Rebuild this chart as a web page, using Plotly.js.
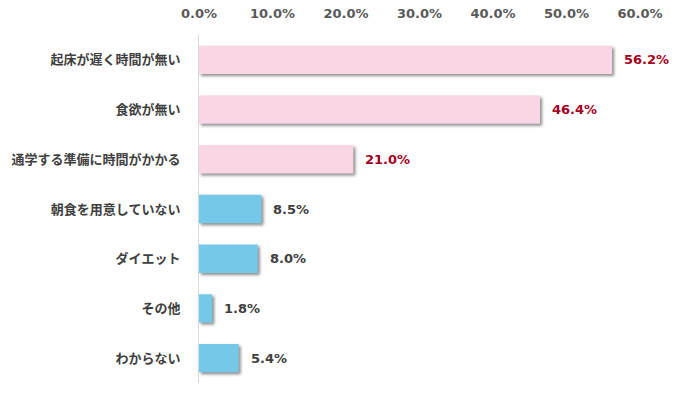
<!DOCTYPE html>
<html><head><meta charset="utf-8">
<script src="https://cdn.plot.ly/plotly-3.0.1.min.js"></script>
<style>
html,body{margin:0;padding:0;background:#fff;}
#chart{width:683px;height:394px;}
.barlayer .point path{filter:drop-shadow(2px 2px 1.5px rgba(0,0,0,0.45));}
</style>
</head><body>
<div id="chart"></div>
<script>
const categories = ["起床が遅く時間が無い","食欲が無い","通学する準備に時間がかかる","朝食を用意していない","ダイエット","その他","わからない"];
const values = [56.2, 46.4, 21.0, 8.5, 8.0, 1.8, 5.4];
const barColors = ["#f8d6e6","#f8d6e6","#f8d6e6","#76c8e9","#76c8e9","#76c8e9","#76c8e9"];
const labelColors = ["#a50021","#a50021","#a50021","#404040","#404040","#404040","#404040"];
const tickVals = [0,10,20,30,40,50,60];
const tickText = tickVals.map(v => v.toFixed(1) + "%");

const trace = {
  type: "bar", orientation: "h",
  x: values, y: categories,
  marker: {color: barColors},
  hoverinfo: "none"
};
const annotations = values.map((v,i) => ({
  x: v, y: categories[i], xref: "x", yref: "y",
  text: v.toFixed(1) + "%", showarrow: false,
  xanchor: "left", xshift: 10,
  font: {family: "DejaVu Sans, Verdana, sans-serif", size: 13, color: labelColors[i], weight: "bold"}
}));
const layout = {
  width: 683, height: 394,
  margin: {l: 199, r: 43, t: 35, b: 11, pad: 0},
  paper_bgcolor: "#fff", plot_bgcolor: "#fff",
  bargap: 0.43,
  showlegend: false,
  xaxis: {
    side: "top", range: [0, 60], tickvals: tickVals, ticktext: tickText,
    showgrid: false, zeroline: false, showline: false, ticks: "",
    tickfont: {family: "DejaVu Sans, Verdana, sans-serif", size: 13, color: "#595959", weight: "bold"},
    ticklabelstandoff: 13, fixedrange: true
  },
  yaxis: {
    type: "category", autorange: "reversed",
    showgrid: false, zeroline: false, showline: true, linecolor: "#d9d9d9", linewidth: 1,
    ticks: "", ticklabelstandoff: 15,
    tickfont: {family: "Noto Sans CJK JP, sans-serif", size: 13, color: "#3f3f3f", weight: "bold"},
    fixedrange: true
  },
  annotations: annotations
};
Plotly.newPlot("chart", [trace], layout, {displayModeBar: false, staticPlot: true});
</script>
</body></html>
